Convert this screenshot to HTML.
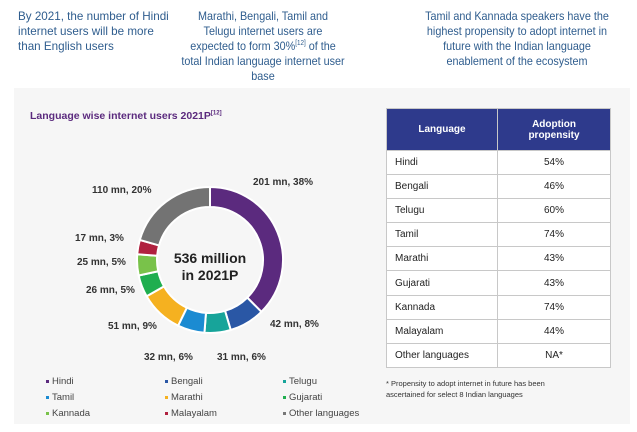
<!DOCTYPE html>
<html><head><meta charset="utf-8"><style>
body{margin:0;width:637px;height:432px;background:#fff;font-family:"Liberation Sans",sans-serif;position:relative;overflow:hidden}
.a{position:absolute;white-space:nowrap}
.h{color:#2f5d8e;font-size:12px;line-height:15px}
.lb{font-size:10px;font-weight:bold;color:#333}
table{position:absolute;left:386px;top:108px;border-collapse:collapse;font-size:10px;color:#222}
td{border:1px solid #c8c8c8;height:23.1px;padding:0;background:#fff}
th{background:#2e3a8c;color:#fff;font-size:10px;height:39px;border:1px solid #c8c8c8}
.lg{font-size:9.5px;color:#444}
.sq{display:inline-block;width:3px;height:3px;margin-right:3px;vertical-align:middle}
</style></head><body>
<div class="a h" style="left:18px;top:9px;transform:scaleX(.97);transform-origin:0 0">By 2021, the number of Hindi<br>internet users will be more<br>than English users</div>
<div class="a h" style="left:163px;top:9px;width:200px;text-align:center;transform:scaleX(.9);transform-origin:50% 0">Marathi, Bengali, Tamil and<br>Telugu internet users are<br>expected to form 30%<sup style="font-size:7px;line-height:0">[12]</sup> of the<br>total Indian language internet user<br>base</div>
<div class="a h" style="left:407px;top:9px;width:220px;text-align:center;transform:scaleX(.9);transform-origin:50% 0">Tamil and Kannada speakers have the<br>highest propensity to adopt internet in<br>future with the Indian language<br>enablement of the ecosystem</div>
<div class="a" style="left:14px;top:88px;width:616px;height:336px;background:#f6f6f6"></div>
<div class="a" style="left:30px;top:110px;color:#5b2a7e;font-weight:bold;font-size:10.5px">Language wise internet users 2021P<sup style="font-size:6px">[12]</sup></div>
<svg class="a" style="left:0;top:0" width="637" height="432" id="s"></svg>
<div class="a" style="left:160px;top:250px;width:100px;text-align:center;font-weight:bold;font-size:14px;line-height:17px;color:#222">536 million<br>in 2021P</div>
<div class="a lb" style="left:253px;top:177px">201 mn, 38%</div>
<div class="a lb" style="left:92px;top:185px">110 mn, 20%</div>
<div class="a lb" style="left:75px;top:233px">17 mn, 3%</div>
<div class="a lb" style="left:77px;top:257px">25 mn, 5%</div>
<div class="a lb" style="left:86px;top:285px">26 mn, 5%</div>
<div class="a lb" style="left:108px;top:321px">51 mn, 9%</div>
<div class="a lb" style="left:270px;top:319px">42 mn, 8%</div>
<div class="a lb" style="left:144px;top:352px">32 mn, 6%</div>
<div class="a lb" style="left:217px;top:352px">31 mn, 6%</div>
<table>
<tr><th style="width:108px">Language</th><th style="width:110px">Adoption<br>propensity</th></tr>
<tr><td style="padding-left:8px">Hindi</td><td align="center">54%</td></tr>
<tr><td style="padding-left:8px">Bengali</td><td align="center">46%</td></tr>
<tr><td style="padding-left:8px">Telugu</td><td align="center">60%</td></tr>
<tr><td style="padding-left:8px">Tamil</td><td align="center">74%</td></tr>
<tr><td style="padding-left:8px">Marathi</td><td align="center">43%</td></tr>
<tr><td style="padding-left:8px">Gujarati</td><td align="center">43%</td></tr>
<tr><td style="padding-left:8px">Kannada</td><td align="center">74%</td></tr>
<tr><td style="padding-left:8px">Malayalam</td><td align="center">44%</td></tr>
<tr><td style="padding-left:8px">Other languages</td><td align="center">NA*</td></tr>
</table>
<div class="a" style="left:386px;top:378px;font-size:7.5px;color:#333;line-height:11px">* Propensity to adopt internet in future has been<br>ascertained for select 8 Indian languages</div>
<div class="a lg" style="left:46px;top:376px"><span class="sq" style="background:#5b2a7e"></span>Hindi</div>
<div class="a lg" style="left:165px;top:376px"><span class="sq" style="background:#2a57a5"></span>Bengali</div>
<div class="a lg" style="left:283px;top:376px"><span class="sq" style="background:#17a49a"></span>Telugu</div>
<div class="a lg" style="left:46px;top:392px"><span class="sq" style="background:#1b8bd2"></span>Tamil</div>
<div class="a lg" style="left:165px;top:392px"><span class="sq" style="background:#f5b120"></span>Marathi</div>
<div class="a lg" style="left:283px;top:392px"><span class="sq" style="background:#1fae4f"></span>Gujarati</div>
<div class="a lg" style="left:46px;top:408px"><span class="sq" style="background:#79c24a"></span>Kannada</div>
<div class="a lg" style="left:165px;top:408px"><span class="sq" style="background:#b0213f"></span>Malayalam</div>
<div class="a lg" style="left:283px;top:408px"><span class="sq" style="background:#777"></span>Other languages</div>
<script>
var v=[201,42,31,32,51,26,25,17,110],c=["#5b2a7e","#2a57a5","#17a49a","#1b8bd2","#f5b120","#1fae4f","#79c24a","#b0213f","#737373"];
var t=535,cx=210,cy=260,R=73,r=53,a=0,s="";
function p(an,rad){return [cx+rad*Math.sin(an),cy-rad*Math.cos(an)];}
for(var i=0;i<9;i++){var b=a+v[i]/t*2*Math.PI,l=(b-a)>Math.PI?1:0;
var p1=p(a,R),p2=p(b,R),p3=p(b,r),p4=p(a,r);
s+='<path d="M'+p1+' A'+R+','+R+' 0 '+l+' 1 '+p2+' L'+p3+' A'+r+','+r+' 0 '+l+' 0 '+p4+'Z" fill="'+c[i]+'" stroke="#fff" stroke-width="2"/>';a=b;}
document.getElementById("s").innerHTML=s;
</script>
</body></html>
